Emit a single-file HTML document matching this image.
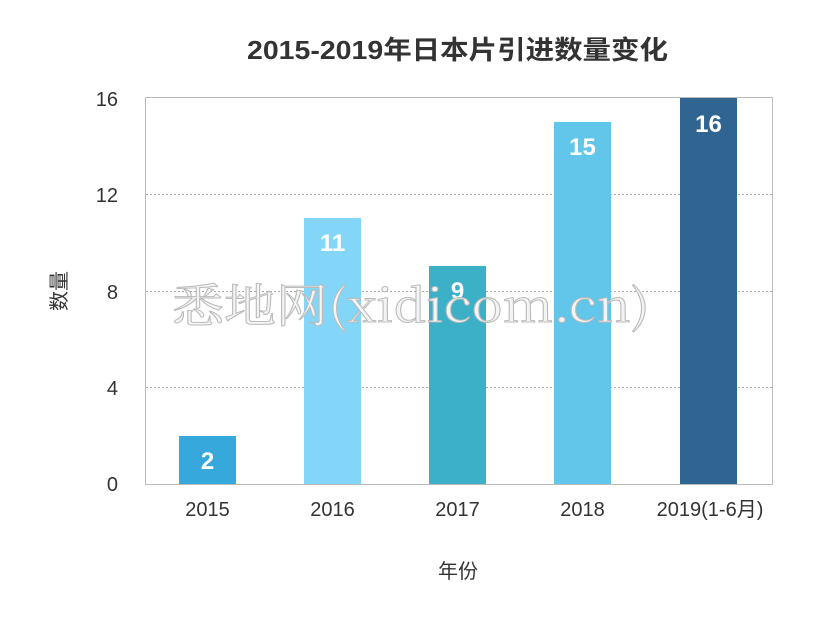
<!DOCTYPE html>
<html><head><meta charset="utf-8"><style>
html,body{margin:0;padding:0;background:#fff;}
svg{display:block;}
</style></head><body>
<svg width="830" height="623" viewBox="0 0 830 623" xmlns="http://www.w3.org/2000/svg" font-family="Liberation Sans, Noto Sans CJK SC, sans-serif">
<rect width="830" height="623" fill="#fff"/>
<text x="247" y="59" font-size="26" font-weight="bold" fill="#333" textLength="421" lengthAdjust="spacingAndGlyphs">2015-2019年日本片引进数量变化</text>
<rect x="145.5" y="97.5" width="627" height="387" fill="none" stroke="#bbb" stroke-width="1"/>
<g stroke="#aaa" stroke-dasharray="2,2" stroke-width="1">
<line x1="146" y1="194.5" x2="772" y2="194.5"/>
<line x1="146" y1="291.5" x2="772" y2="291.5"/>
<line x1="146" y1="387.5" x2="772" y2="387.5"/>
</g>
<g font-size="20" fill="#333" text-anchor="end">
<text x="118" y="106">16</text>
<text x="118" y="202">12</text>
<text x="118" y="299">8</text>
<text x="118" y="395">4</text>
<text x="118" y="491">0</text>
</g>
<rect x="179" y="436" width="57" height="48" fill="#37a8dc"/>
<rect x="304" y="218" width="57" height="266" fill="#83d6f7"/>
<rect x="429" y="266" width="57" height="218" fill="#3bb0c6"/>
<rect x="554" y="122" width="57" height="362" fill="#62c5ea"/>
<rect x="680" y="98" width="57" height="386" fill="#2f6590"/>
<g font-size="24" font-weight="bold" fill="#fff" text-anchor="middle">
<text x="207.5" y="469">2</text>
<text x="332.5" y="251">11</text>
<text x="457.5" y="299">9</text>
<text x="582.5" y="155">15</text>
<text x="708.5" y="132">16</text>
</g>
<g font-size="20" fill="#333" text-anchor="middle">
<text x="207.5" y="516">2015</text>
<text x="332.5" y="516">2016</text>
<text x="457.5" y="516">2017</text>
<text x="582.5" y="516">2018</text>
<text x="710" y="516">2019(1-6月)</text>
<text x="458" y="578">年份</text>
</g>
<text x="0" y="0" font-size="20" fill="#333" text-anchor="middle" transform="translate(66,291) rotate(-90)">数量</text>
<text x="172" y="322" font-size="46" fill="#f4f4f4" stroke="#bbb" stroke-width="1" textLength="478" lengthAdjust="spacingAndGlyphs" font-family="Noto Serif CJK SC, Liberation Serif, serif">悉地网(xidicom.cn)</text>
</svg>
</body></html>
